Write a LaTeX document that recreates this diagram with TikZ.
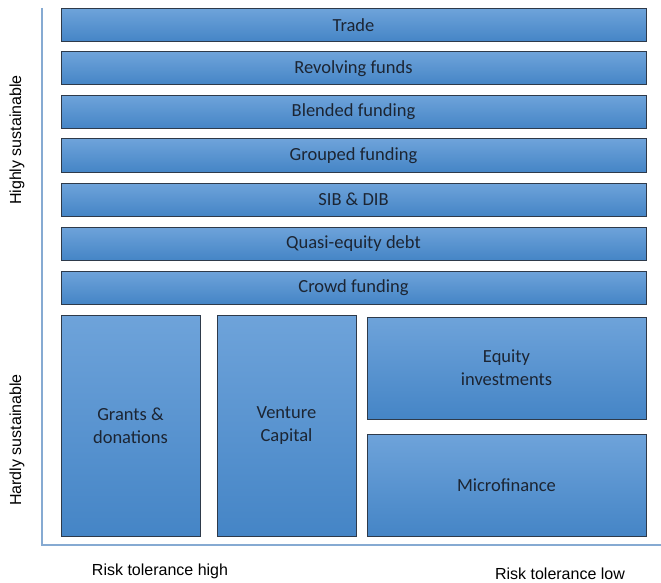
\documentclass[tikz,border=0pt]{standalone}
\usepackage{fontspec}
\setmainfont{Carlito}
\newfontfamily\axisfont{Liberation Sans}
\usetikzlibrary{positioning}
\definecolor{boxtop}{HTML}{6EA3DA}
\definecolor{boxbot}{HTML}{4585C6}
\definecolor{boxline}{HTML}{2E3A4A}
\definecolor{boxtext}{HTML}{1C2533}
\definecolor{axisblue}{HTML}{86AAD2}
\tikzset{bar/.style={draw=boxline, line width=1pt, top color=boxtop, bottom color=boxbot, minimum width=585pt, minimum height=33pt, inner sep=0pt, font=\fontsize{18.5}{23}\selectfont, text=boxtext, align=center}, blk/.style={bar, minimum width=139pt, minimum height=221pt}, wide/.style={bar, minimum width=279pt, minimum height=102pt}, axis/.style={line width=1.6pt, color=axisblue}, axlab/.style={font=\axisfont\fontsize{16}{18}\selectfont, text=black}}

\begin{document}
\begin{tikzpicture}[x=1pt,y=-1pt]
\useasboundingbox (0,0) rectangle (661,583);
\draw[axis] (42,8)--(42,545)--(661,545);
\node[bar] (trade) at (353.5,25) {Trade};
\node[bar] (revolving) at (353.5,68.5) {Revolving funds};
\node[bar] (blended) at (353.5,112) {Blended funding};
\node[bar] (grouped) at (353.5,155.5) {Grouped funding};
\node[bar] (sib) at (353.5,199.5) {SIB \& DIB};
\node[bar] (quasi) at (353.5,243.5) {Quasi-equity debt};
\node[bar] (crowd) at (353.5,287.5) {Crowd funding};
\node[blk] (grants) at (130.5,425.5) {Grants \&\\donations};
\node[blk] (venture) at (286.5,425.5) {Venture\\Capital};
\node[wide] (equity) at (506.5,368) {Equity\\investments};
\node[wide] (micro) at (506.5,485) {Microfinance};
\node[axlab, rotate=90] (high) at (17,140) {Highly sustainable};
\node[axlab, rotate=90] (hard) at (17,440) {Hardly sustainable};
\node[axlab] (risklo) at (160,571) {Risk tolerance high};
\node[axlab] (riskhi) at (560,574) {Risk tolerance low};
\end{tikzpicture}
\end{document}
